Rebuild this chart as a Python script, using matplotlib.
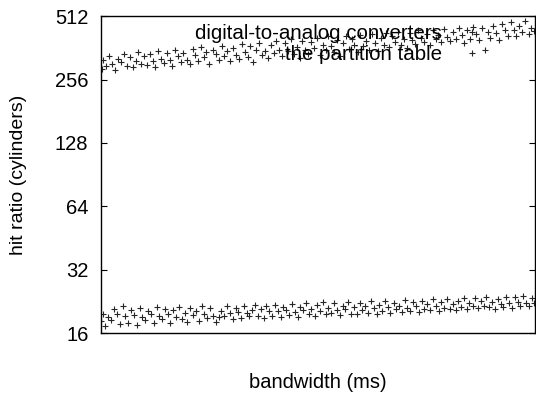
import matplotlib
matplotlib.use('Agg')
import matplotlib.pyplot as plt
from matplotlib.ticker import FixedLocator, NullLocator

plt.rcParams['font.family'] = ['Liberation Sans', 'DejaVu Sans']

SERIES_1 = 'digital-to-analog converters'
SERIES_2 = 'the partition table'

# upper band (digital-to-analog converters)
upper_x = [0.2, 0.5, 1.1, 1.8, 2.6, 3.3, 3.9, 4.7, 5.2, 5.9, 6.8, 7.4, 8.0, 8.6, 9.3, 9.9,
           10.6, 11.2, 11.9, 12.5, 13.2, 13.8, 14.5, 15.1, 15.8, 16.4, 17.1, 17.7, 18.4, 19.0,
           19.8, 20.4, 21.1, 21.7, 22.4, 23.0, 23.7, 24.3, 25.0, 25.8, 26.5, 27.1, 27.8, 28.4,
           29.1, 29.7, 30.4, 31.0, 31.8, 32.5, 33.1, 33.8, 34.4, 35.1, 35.7, 36.4, 37.0, 37.8,
           38.5, 39.1, 39.8, 40.4, 41.1, 41.7, 42.4, 43.0, 43.7, 44.5, 45.1, 45.8, 46.4, 47.1,
           47.7, 48.4, 49.0, 49.8, 50.5, 51.1, 51.8, 52.4, 53.1, 53.7, 54.4, 55.0, 55.8, 56.5,
           57.1, 57.8, 58.4, 59.1, 59.7, 60.4, 61.0, 61.8, 62.5, 63.1, 63.8, 64.4, 65.1, 65.7,
           66.4, 67.0, 67.8, 68.5, 69.1, 69.8, 70.4, 71.1, 71.7, 72.4, 73.0, 73.7, 74.5, 75.1,
           75.8, 76.4, 77.1, 77.7, 78.4, 79.0, 79.8, 80.5, 81.1, 81.8, 82.4, 83.1, 83.7, 84.4,
           85.0, 85.8, 86.5, 87.1, 87.8, 88.4, 89.1, 89.7, 90.4, 91.0, 91.8, 92.5, 93.1, 93.8,
           94.4, 95.1, 95.7, 96.4, 97.0, 97.8, 98.5, 99.1, 99.7]
upper_y = [288, 318, 296, 330, 302, 285, 322, 310, 340, 298, 326, 292, 315, 345, 304, 330,
           300, 338, 312, 295, 350, 322, 306, 342, 318, 298, 355, 330, 310, 344,
           318, 302, 356, 334, 312, 365, 328, 345, 305, 352, 338, 318, 370, 330,
           348, 315, 362, 336, 320, 378, 345, 328, 368, 310, 355, 382, 335, 350,
           325, 372, 342, 390, 355, 330, 380, 348, 398, 338, 365, 325, 392, 352,
           340, 385, 360, 402, 335, 375, 352, 410, 368, 345, 395, 330, 380, 412,
           358, 398, 375, 345, 415, 368, 392, 355, 420, 380, 350, 405, 372, 425,
           365, 410, 388, 430, 372, 400, 360, 428, 395, 378, 438, 405, 385, 420,
           375, 440, 400, 418, 385, 445, 408, 390, 432, 398, 452, 415, 380, 438,
           400, 455, 420, 395, 448, 352, 430, 405, 462, 425, 395, 470, 438, 412,
           478, 440, 412, 458, 430, 488, 420, 452, 436]

# lower band (the partition table)
lower_x = [0.1, 0.4, 0.9, 1.6, 2.3, 3.0, 3.6, 4.3, 5.0, 5.6, 6.3, 6.9, 7.6, 8.2, 8.9, 9.5,
           10.2, 10.8, 11.5, 12.1, 12.8, 13.4, 14.1, 14.7, 15.4, 16.0, 16.7, 17.3, 18.0, 18.6,
           19.3, 19.9, 20.6, 21.2, 21.9, 22.5, 23.2, 23.8, 24.5, 25.1, 25.8, 26.4, 27.1, 27.7,
           28.4, 29.0, 29.7, 30.3, 31.0, 31.6, 32.3, 32.9, 33.6, 34.2, 34.9, 35.5, 36.2, 36.8,
           37.5, 38.1, 38.8, 39.4, 40.1, 40.7, 41.4, 42.0, 42.7, 43.3, 44.0, 44.6, 45.3, 45.9,
           46.6, 47.2, 47.9, 48.5, 49.2, 49.8, 50.5, 51.1, 51.8, 52.4, 53.1, 53.7, 54.4, 55.0,
           55.7, 56.3, 57.0, 57.6, 58.3, 58.9, 59.6, 60.2, 60.9, 61.5, 62.2, 62.8, 63.5, 64.1,
           64.8, 65.4, 66.1, 66.7, 67.4, 68.0, 68.7, 69.3, 70.0, 70.6, 71.3, 71.9, 72.6, 73.2,
           73.9, 74.5, 75.2, 75.8, 76.5, 77.1, 77.8, 78.4, 79.1, 79.7, 80.4, 81.0, 81.7, 82.3,
           83.0, 83.6, 84.3, 84.9, 85.6, 86.2, 86.9, 87.5, 88.2, 88.8, 89.5, 90.1, 90.8, 91.4,
           92.1, 92.7, 93.4, 94.0, 94.7, 95.3, 96.0, 96.6, 97.3, 97.9, 98.6, 99.2, 99.8]
lower_y = [18.2, 19.6, 17.2, 19.0, 18.4, 20.9, 19.8, 17.6, 21.4, 19.2, 17.8, 20.5, 19.5, 17.4, 21.0, 19.0,
           18.4, 20.4, 19.6, 17.9, 21.2, 19.3, 18.6, 20.9, 19.8, 17.8, 20.5, 19.1, 21.3, 18.7,
           19.9, 18.0, 21.1, 19.4, 20.3, 18.3, 21.4, 19.7, 18.9, 21.0, 19.3, 18.1, 19.0, 20.4,
           19.2, 21.5, 19.9, 18.6, 21.0, 20.2, 18.8, 21.6, 20.0, 19.3, 20.6, 21.7, 19.2, 20.8,
           18.9, 21.5, 20.3, 19.3, 21.8, 20.4, 19.0, 21.2, 20.6, 19.5, 22.0, 20.1, 19.0, 21.3,
           20.5, 22.2, 19.6, 20.9, 19.2, 21.7, 20.3, 22.4, 19.6, 21.0, 20.0, 22.1, 20.6, 19.4,
           21.4, 20.8, 22.5, 19.8, 21.3, 19.6, 22.2, 20.5, 21.5, 19.9, 22.6, 21.0, 19.8, 21.8,
           20.4, 22.7, 21.2, 20.0, 22.3, 20.7, 21.6, 20.1, 22.9, 21.1, 20.3, 22.4, 21.4, 20.2,
           22.8, 20.8, 21.9, 20.5, 23.1, 21.5, 20.4, 22.5, 21.0, 23.2, 20.7, 21.9, 20.5, 22.7,
           21.2, 23.4, 20.8, 22.2, 21.4, 23.5, 21.0, 22.6, 21.5, 23.7, 21.2, 22.4, 20.9, 23.3,
           22.0, 21.3, 23.8, 22.1, 21.1, 23.6, 22.4, 21.5, 24.0, 22.2, 21.6, 23.4, 22.3]

y_ticks = [16, 32, 64, 128, 256, 512]
FS = 14.5

fig = plt.figure(figsize=(5.36, 3.94), dpi=100)
ax = fig.add_axes([0.1884, 0.1548, 0.8098, 0.8042])

mk = dict(marker='+', linestyle='none', color='black', markersize=4.5, markeredgewidth=0.8, alpha=0.85)
ax.plot(upper_x, upper_y, label=SERIES_1, **mk)
ax.plot(lower_x, lower_y, label=SERIES_2, **mk)

ax.set_yscale('log', base=2)
ax.set_ylim(16, 512)
ax.set_xlim(0, 100)
ax.yaxis.set_major_locator(FixedLocator(y_ticks))
ax.yaxis.set_minor_locator(NullLocator())
ax.set_yticklabels([str(t) for t in y_ticks], fontsize=FS)
ax.xaxis.set_major_locator(NullLocator())
ax.tick_params(axis='y', direction='in', length=4, width=0.8, right=True, pad=9)

for sp in ax.spines.values():
    sp.set_linewidth(1.0)

ax.set_xlabel('bandwidth (ms)', fontsize=FS, labelpad=29)
ax.set_ylabel('hit ratio (cylinders)', fontsize=14, labelpad=20)

ax.legend(loc='upper right', bbox_to_anchor=(0.903, 0.975), frameon=False, fontsize=14.8,
          markerfirst=False, handlelength=2.0, handletextpad=0.5, labelspacing=0.08,
          borderpad=0.0, borderaxespad=0.0)

fig.savefig('out.png', dpi=100)
